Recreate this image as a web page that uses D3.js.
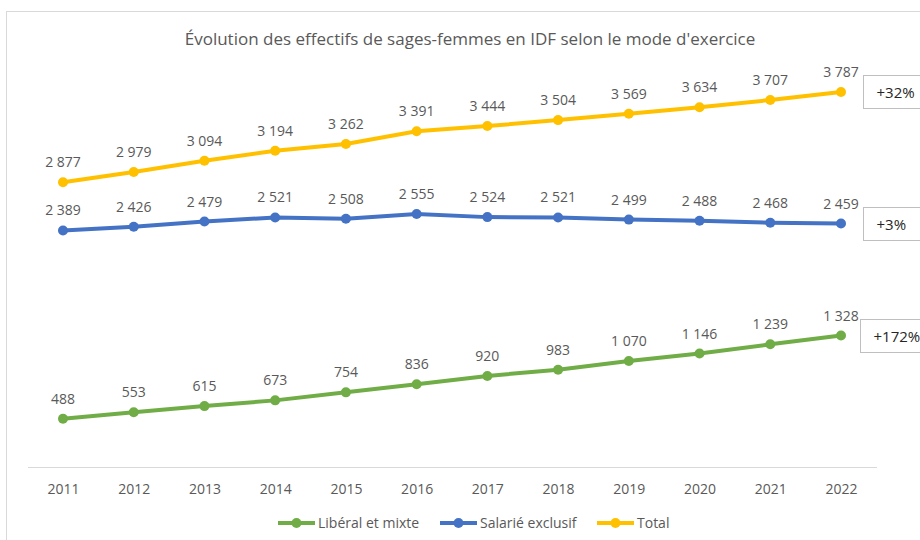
<!DOCTYPE html>
<html>
<head>
<meta charset="utf-8">
<script src="https://cdn.jsdelivr.net/npm/d3@7"></script>
<style>
  body { margin: 0; background: #fff; }
  svg text { font-family: "Open Sans", "Noto Sans", sans-serif; fill: #595959; }
</style>
</head>
<body>
<div id="chart"></div>
<script>
var years = ["2011","2012","2013","2014","2015","2016","2017","2018","2019","2020","2021","2022"];
var liberal = [488, 553, 615, 673, 754, 836, 920, 983, 1070, 1146, 1239, 1328];
var salarie = [2389, 2426, 2479, 2521, 2508, 2555, 2524, 2521, 2499, 2488, 2468, 2459];
var total = [2877, 2979, 3094, 3194, 3262, 3391, 3444, 3504, 3569, 3634, 3707, 3787];
var seriesNames = ["Libéral et mixte", "Salarié exclusif", "Total"];
var growth = ["+172%", "+3%", "+32%"];

var width = 920, height = 540;
var colors = ["#70AD47", "#4472C4", "#FFC000"];
var seriesData = [liberal, salarie, total];

var svg = d3.select("#chart").append("svg")
  .attr("width", width).attr("height", height);

// chart frame
svg.append("rect")
  .attr("x", 6.5).attr("y", 11.5)
  .attr("width", 940).attr("height", 560)
  .attr("fill", "none").attr("stroke", "#d9d9d9");

svg.append("text")
  .attr("x", 470).attr("y", 45)
  .attr("text-anchor", "middle")
  .style("font-size", "17px")
  .text("Évolution des effectifs de sages-femmes en IDF selon le mode d'exercice");

var x = d3.scalePoint().domain(years).range([63, 841]);
var y = d3.scaleLinear().domain([0, 4000]).range([467, 71]);

// axis
var xAxis = svg.append("g").attr("transform", "translate(0,467)")
  .call(d3.axisBottom(x).tickSize(0).tickPadding(17));
xAxis.select(".domain").attr("stroke", "#d9d9d9").attr("d", "M28,0.5H877");
xAxis.selectAll("text").style("font-size", "14px").attr("fill", "#595959");

var fmt = function(v) { return d3.format(",")(v).replace(/,/g, " "); };
var line = d3.line().x(function(d, i) { return x(years[i]); }).y(function(d) { return y(d); });

seriesData.forEach(function(vals, k) {
  var g = svg.append("g");
  g.append("path").datum(vals)
    .attr("d", line)
    .attr("fill", "none")
    .attr("stroke", colors[k])
    .attr("stroke-width", 4)
    .attr("stroke-linecap", "round");
  g.selectAll("circle").data(vals).enter().append("circle")
    .attr("cx", function(d, i) { return x(years[i]); })
    .attr("cy", function(d) { return y(d); })
    .attr("r", 5)
    .attr("fill", colors[k]);
  g.selectAll("text").data(vals).enter().append("text")
    .attr("x", function(d, i) { return x(years[i]); })
    .attr("y", function(d) { return y(d) - 15; })
    .attr("text-anchor", "middle")
    .style("font-size", "14px")
    .text(fmt);

  // growth box at right
  var last = vals[vals.length - 1];
  var by = y(last);
  var bx = k === 0 ? 860.5 : 863.5;
  svg.append("rect")
    .attr("x", bx).attr("y", Math.round(by) - 16.5)
    .attr("width", 70).attr("height", 33)
    .attr("fill", "#fff").attr("stroke", "#bfbfbf");
  svg.append("text")
    .attr("x", bx + 13).attr("y", by + 6)
    .style("font-size", "15px")
    .style("fill", "#262626")
    .text(growth[k]);
});

// legend
var legX = [278, 440, 597];
seriesNames.forEach(function(name, k) {
  var lg = svg.append("g").attr("transform", "translate(" + legX[k] + ",523)");
  lg.append("line").attr("x1", 0).attr("x2", 37).attr("y1", 0).attr("y2", 0)
    .attr("stroke", colors[k]).attr("stroke-width", 4);
  lg.append("circle").attr("cx", 18.5).attr("cy", 0).attr("r", 5).attr("fill", colors[k]);
  lg.append("text").attr("x", 40).attr("y", 5).style("font-size", "14px").text(name);
});
</script>
</body>
</html>
